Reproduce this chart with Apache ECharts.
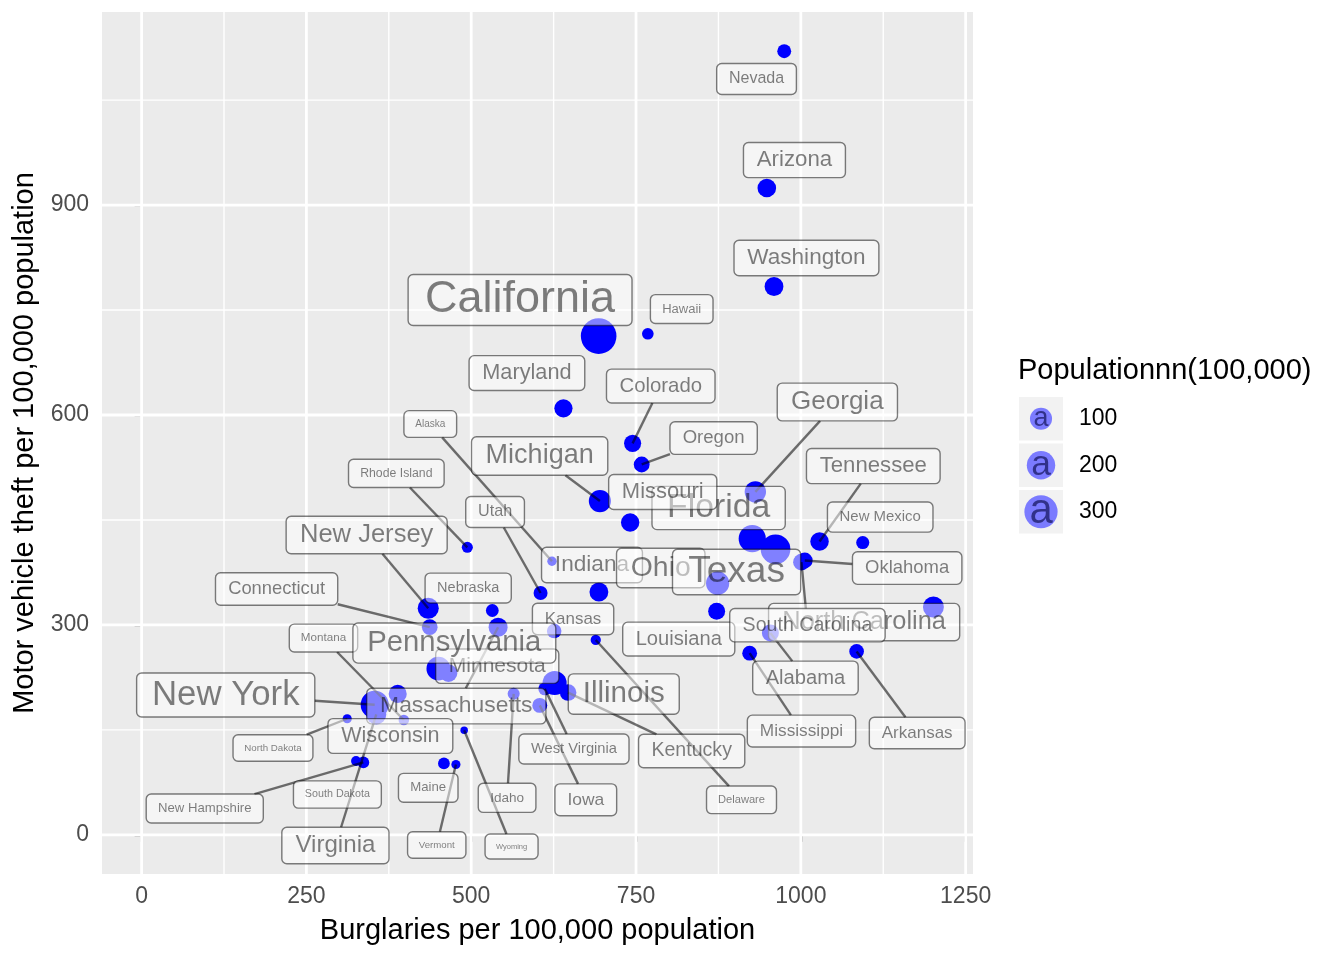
<!DOCTYPE html>
<html><head><meta charset="utf-8">
<script src="https://cdn.jsdelivr.net/npm/echarts@6/dist/echarts.min.js"></script>
<style>html,body{margin:0;padding:0;background:#fff}#c{width:1344px;height:960px}</style>
</head><body><div id="c"></div>
<script>
const states = ["Alabama","Alaska","Arizona","Arkansas","California","Colorado","Connecticut","Delaware","Florida","Georgia","Hawaii","Idaho","Illinois","Indiana","Iowa","Kansas","Kentucky","Louisiana","Maine","Maryland","Massachusetts","Michigan","Minnesota","Mississippi","Missouri","Montana","Nebraska","Nevada","New Hampshire","New Jersey","New Mexico","New York","North Carolina","North Dakota","Ohio","Oklahoma","Oregon","Pennsylvania","Rhode Island","South Carolina","South Dakota","Tennessee","Texas","Utah","Vermont","Virginia","Washington","West Virginia","Wisconsin","Wyoming"];
const burglary = [953.8,622.5,948.4,1084.6,693.3,744.8,437.1,688.9,926.3,931,767.9,564.4,626.5,693.7,604,625.8,647,872.3,458.6,639.9,540.8,695.2,465.6,922.4,741.1,397.8,532,974.8,336.4,434.8,1093.9,353.6,1201.1,311.9,873.8,1006,758.6,450.2,494.1,1000.9,325.3,1028.4,961.6,605.2,476.8,356,959.3,611.6,388.5,489.3];
const motorVehicleTheft = [288.3,391,924.4,262.1,712.8,559.5,296.8,278.5,423.3,490.2,716.1,201.5,216.9,347,185,291.2,203.3,319.4,102,609.5,296.6,477,231.1,259.6,446.4,164.1,320.6,1120,103.5,323.9,417.7,186,325.6,165.9,359.6,392.1,529.3,237.5,410.9,389.7,105.4,419.3,408.1,345.6,100.5,172,783.7,208.6,201.4,149.4];
// population in units of 100,000
const population = [45.45,6.69,59.75,27.76,357.95,46.61,34.77,8.40,177.84,90.97,12.73,14.29,127.12,62.66,29.74,27.48,41.73,45.24,13.22,55.90,64.33,100.96,51.01,29.00,57.55,9.36,17.47,23.35,13.10,86.99,19.03,192.27,85.41,6.34,114.59,35.24,35.95,124.06,10.81,41.98,7.71,59.01,224.90,23.89,6.21,74.60,62.04,18.15,55.09,5.07];
// label box centres (data units) as placed by the repel layout in the reference
const labelX = [1007,437.9,990.3,1176.5,574.1,787.5,204.8,910,875.3,1055.4,819.3,554.4,731.4,683.2,673.8,654.5,834.4,814.8,434.8,584.5,477.4,603.8,539.5,1001,790.5,275.9,495.4,932.8,95.8,341.4,1120.4,127.6,1096,199.3,787.5,1161.3,867.7,474.4,386.4,1010,297,1109.9,902.5,536.2,447.7,294,1008.5,655.8,377.4,561.2];
const labelY = [224.1,587.1,964.4,145.5,764.3,641.4,351.3,50,467.1,618.6,751.5,52.9,201.2,385.6,50,308.4,119.8,279.8,67.2,659.9,184,541.4,241,148.3,489.9,281.2,352.7,1080.2,37.6,428.5,454.2,199.8,304,124.1,381.3,381.3,567.1,274.1,516.6,299.6,57.6,527.1,375.6,461.4,-14.6,-15.3,824.4,122.6,141.2,-16.7];
const xTicks = [0,250,500,750,1000,1250];
const xMinor = [125,375,625,875,1125];
const yTicks = [0,300,600,900];
const yMinor = [150,450,750,1050];
const legendBreaks = [100,200,300];
const legendTitle = "Populationnn(100,000)";
const xTitle = "Burglaries per 100,000 population";
const yTitle = "Motor vehicle theft per 100,000 population";

const FONT = '"Liberation Sans", Arial, Helvetica, sans-serif';
const X_MIN = -60.055, X_MAX = 1261.155, Y_MIN = -56, Y_MAX = 1176;
const popMin = Math.min(...population), popMax = Math.max(...population);
function sizeMM(p){ return 1 + 5*Math.sqrt(Math.max(0,(p-popMin)/(popMax-popMin))); }
function pointDiam(p){ return 5.63*sizeMM(p)+1.87; }
function fontPx(p){ return 7.5*sizeMM(p); }
const mctx = document.createElement('canvas').getContext('2d');
function boxOf(i){
  const fs = fontPx(population[i]);
  mctx.font = fs + 'px ' + FONT;
  const tw = mctx.measureText(states[i]).width;
  return {fs: fs, w: tw + 2*(9.7+0.16*fs), h: 19.8+0.693*fs};
}

const chart = echarts.init(document.getElementById('c'), null, {renderer:'canvas'});
const gridData = [];
xTicks.forEach(v=>gridData.push([v,0,0,1]));
xMinor.forEach(v=>gridData.push([v,0,0,0]));
yTicks.forEach(v=>gridData.push([0,v,1,1]));
yMinor.forEach(v=>gridData.push([0,v,1,0]));

const idx = states.map((s,i)=>[labelX[i], labelY[i], i]);

const legendEls = [];
legendEls.push({type:'text', left:1018, top:356, style:{text:legendTitle, fontSize:29, fontFamily:FONT, fill:'#000'}});
legendBreaks.forEach((b,k)=>{
  const top = 397 + k*46.5, h = 43.5, cy = top + h/2;
  const d = pointDiam(b), fs = fontPx(b);
  legendEls.push({type:'rect', shape:{x:1019,y:top,width:44,height:h}, style:{fill:'#F2F2F2'}});
  legendEls.push({type:'circle', shape:{cx:1041,cy:cy,r:d/2}, style:{fill:'#7B7BFF'}});
  legendEls.push({type:'text', x:1041, y:cy, style:{text:'a', fontSize:fs, fontFamily:FONT, fill:'rgba(0,0,60,0.6)', align:'center', verticalAlign:'middle'}});
  legendEls.push({type:'text', x:1079, y:cy, style:{text:String(b), fontSize:23, fontFamily:FONT, fill:'#000', align:'left', verticalAlign:'middle'}});
});

chart.setOption({
  animation:false,
  backgroundColor:'#fff',
  grid:{left:102, top:12, width:871, height:862, show:true, backgroundColor:'#EBEBEB', borderWidth:0, containLabel:false},
  xAxis:{type:'value', min:X_MIN, max:X_MAX,
    axisLine:{show:false}, splitLine:{show:false},
    axisTick:{show:true, customValues:xTicks, length:7, lineStyle:{color:'#333', width:1.4}},
    axisLabel:{customValues:xTicks, formatter:function(v){return String(v);}, color:'#4D4D4D', fontSize:23, fontFamily:FONT, margin:11},
    name:xTitle, nameLocation:'middle', nameGap:42, nameTextStyle:{fontSize:29, color:'#000', fontFamily:FONT}},
  yAxis:{type:'value', min:Y_MIN, max:Y_MAX,
    axisLine:{show:false}, splitLine:{show:false},
    axisTick:{show:true, customValues:yTicks, length:7, lineStyle:{color:'#333', width:1.4}},
    axisLabel:{customValues:yTicks, formatter:function(v){return String(v);}, color:'#4D4D4D', fontSize:23, fontFamily:FONT, margin:13},
    name:yTitle, nameLocation:'middle', nameGap:59, nameTextStyle:{fontSize:29, color:'#000', fontFamily:FONT}},
  graphic:{elements:legendEls},
  series:[
    {type:'custom', z:1, silent:true, data:gridData, clip:true,
      renderItem:function(params, api){
        const cs = params.coordSys;
        const isY = api.value(2)===1, major = api.value(3)===1;
        const lw = major?2.8:1.4;
        if(!isY){
          const x = api.coord([api.value(0), 0])[0];
          return {type:'line', shape:{x1:x,y1:cs.y,x2:x,y2:cs.y+cs.height}, style:{stroke:'#fff', lineWidth:lw}};
        } else {
          const y = api.coord([0, api.value(1)])[1];
          return {type:'line', shape:{x1:cs.x,y1:y,x2:cs.x+cs.width,y2:y}, style:{stroke:'#fff', lineWidth:lw}};
        }
      }},
    {type:'scatter', z:2, silent:true,
      data:states.map((s,i)=>[burglary[i], motorVehicleTheft[i], population[i]]),
      symbolSize:function(v){ return pointDiam(v[2]); },
      itemStyle:{color:'#0000FF', opacity:1}},
    {type:'custom', z:3, silent:true, data:idx, clip:false,
      renderItem:function(params, api){
        const i = api.value(2);
        const p = api.coord([burglary[i], motorVehicleTheft[i]]);
        const c = api.coord([api.value(0), api.value(1)]);
        const b = boxOf(i);
        const hw=b.w/2, hh=b.h/2;
        const dx=p[0]-c[0], dy=p[1]-c[1];
        if(Math.abs(dx)<=hw && Math.abs(dy)<=hh) return null;
        const t = Math.min(dx===0?Infinity:hw/Math.abs(dx), dy===0?Infinity:hh/Math.abs(dy));
        const ex=c[0]+t*dx, ey=c[1]+t*dy;
        const len=Math.hypot(p[0]-ex,p[1]-ey);
        if(len<28) return null;
        return {type:'line', shape:{x1:ex,y1:ey,x2:p[0],y2:p[1]}, style:{stroke:'rgba(0,0,0,0.55)', lineWidth:2.4}};
      }},
    {type:'custom', z:4, silent:true, data:idx, clip:false,
      renderItem:function(params, api){
        const i = api.value(2);
        const c = api.coord([api.value(0), api.value(1)]);
        const b = boxOf(i);
        return {type:'group', children:[
          {type:'rect', shape:{x:c[0]-b.w/2, y:c[1]-b.h/2, width:b.w, height:b.h, r:5},
            style:{fill:'rgba(255,255,255,0.5)', stroke:'rgba(0,0,0,0.5)', lineWidth:1.4}},
          {type:'text', x:c[0], y:c[1], style:{text:states[i], fontSize:b.fs, fontFamily:FONT, fill:'rgba(0,0,0,0.5)', align:'center', verticalAlign:'middle'}}
        ]};
      }}
  ]
});
</script></body></html>
